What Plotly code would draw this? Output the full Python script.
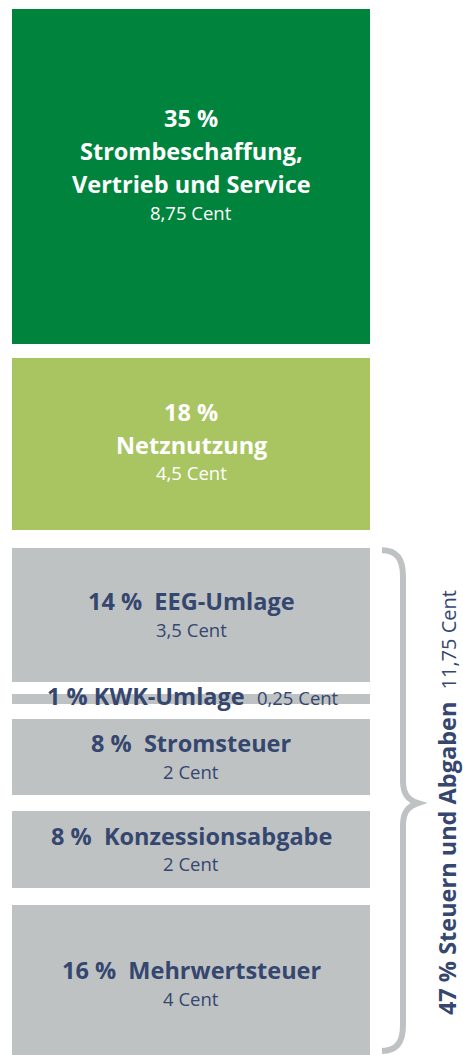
import plotly.graph_objects as go

# ---- data ----
percent = [35, 18, 14, 1, 8, 8, 16]
labels = ["Strombeschaffung,<br>Vertrieb und Service", "Netznutzung", "EEG-Umlage",
          "KWK-Umlage", "Stromsteuer", "Konzessionsabgabe", "Mehrwertsteuer"]
cents = ["8,75", "4,5", "3,5", "0,25", "2", "2", "4"]
group_percent = 47
group_cent = "11,75"
group_label = "Steuern und Abgaben"

# ---- styling / layout ----
W, H = 463, 1055
PX = 9.57                      # pixels per percent
TOP = 9 / PX                   # top offset (in % units)
gaps_px = [14, 18, 12, 15, 16, 17]
colors = ["#00843d", "#a8c562", "#bec2c3", "#bec2c3", "#bec2c3", "#bec2c3", "#bec2c3"]
text_colors = ["#ffffff", "#ffffff", "#35466f", "#35466f", "#35466f", "#35466f", "#35466f"]
FONT = "Open Sans"
BOLD_SIZE = 23.5
CENT_SIZE = 18.5
X_LEFT, X_RIGHT = 12, 370
XC = (X_LEFT + X_RIGHT) / 2
group_shift = [-11, -2, 0, 0, 0, 0, 3]

fig = go.Figure()

bases = []
y = TOP
for i, p in enumerate(percent):
    bases.append(y)
    fig.add_trace(go.Bar(
        x=[XC], y=[p], base=[y], width=[X_RIGHT - X_LEFT],
        marker=dict(color=colors[i], line=dict(width=0)),
        hoverinfo="skip", showlegend=False,
    ))
    y += p + (gaps_px[i] / PX if i < len(gaps_px) else 0)

annotations = []
for i, p in enumerate(percent):
    center = bases[i] + p / 2
    col = text_colors[i]
    if p == 1:
        annotations.append(dict(
            x=XC + 2, y=center - 3 / PX, xref="x", yref="y", showarrow=False,
            text=f"<b>{p} % {labels[i]}</b>  <span style='font-size:{CENT_SIZE}px'>{cents[i]} Cent</span>",
            font=dict(family=FONT, size=BOLD_SIZE, color=col),
        ))
        continue
    if i < 2:
        bold_lines = [f"{p} %"] + labels[i].split("<br>")
    else:
        bold_lines = [f"{p} %  {labels[i]}"]
    lines = [(t, True) for t in bold_lines] + [(f"{cents[i]} Cent", False)]
    offs = [0]
    for t, b in lines[1:]:
        offs.append(offs[-1] + (33 if b else 28))
    mid = offs[-1] / 2
    for (t, b), o in zip(lines, offs):
        ypx = o - mid + group_shift[i]
        annotations.append(dict(
            x=XC, y=center + ypx / PX, xref="x", yref="y", showarrow=False,
            text=f"<b>{t}</b>" if b else t,
            font=dict(family=FONT, size=BOLD_SIZE if b else CENT_SIZE, color=col),
        ))

# brace for the tax group
yt = bases[2]
yend = bases[-1] + percent[-1]
yb = min(yend, (H - 2) / PX)
ym = (yt + yend) / 2
k = 1 / PX
xa, xv, xt = 382, 403, 418
path = (f"M {xa},{yt + 2*k} C {xa+14},{yt + 2*k} {xv},{yt + 10*k} {xv},{yt + 28*k} "
        f"L {xv},{ym - 22*k} C {xv},{ym - 8*k} {xv+6},{ym - 3*k} {xt},{ym} "
        f"C {xv+6},{ym + 3*k} {xv},{ym + 8*k} {xv},{ym + 22*k} "
        f"L {xv},{yb - 28*k} C {xv},{yb - 10*k} {xa+14},{yb - 2*k} {xa},{yb - 2*k}")
fig.add_shape(type="path", path=path, xref="x", yref="y",
              line=dict(color="#bec2c3", width=6), fillcolor="rgba(0,0,0,0)")

annotations.append(dict(
    x=447, y=ym, xref="x", yref="y", showarrow=False, textangle=-90,
    text=f"<b>{group_percent} % {group_label}</b>  <span style='font-size:20px'>{group_cent} Cent</span>",
    font=dict(family=FONT, size=BOLD_SIZE, color="#35466f"),
))

fig.update_layout(
    width=W, height=H, margin=dict(l=0, r=0, t=0, b=0),
    paper_bgcolor="white", plot_bgcolor="white",
    barmode="overlay", bargap=0,
    xaxis=dict(range=[0, W], visible=False, fixedrange=True),
    yaxis=dict(range=[H / PX, 0], visible=False, fixedrange=True),
    annotations=annotations,
)

fig.write_html("out.html", config={"displayModeBar": False},
               post_script="document.body.style.margin='0';document.body.style.overflow='hidden';")
